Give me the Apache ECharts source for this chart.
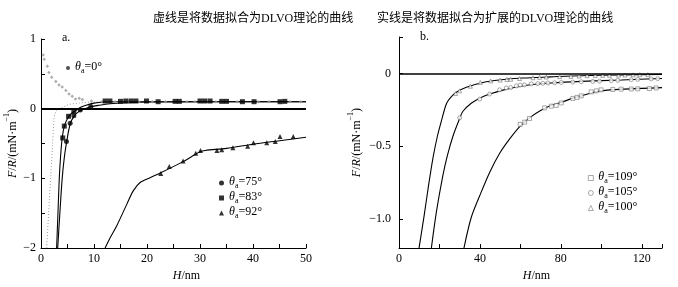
<!DOCTYPE html>
<html>
<head>
<meta charset="utf-8">
<script src="https://cdn.jsdelivr.net/npm/echarts@6/dist/echarts.min.js"></script>
<style>
  html, body { margin: 0; padding: 0; background: #fff; }
  #chart { width: 678px; height: 287px; }
</style>
</head>
<body>
<div id="chart"></div>
<script>
// panel a: measured points
const h0 = [0.4, 0.6, 1.2, 1.5, 2.0, 2.8, 3.4, 4.0, 4.7, 5.3, 5.9, 6.5, 7.2, 7.8, 9.5, 11.5, 14, 16.5, 18.5, 21, 23.5, 27.5, 29, 33, 37, 41, 43, 47, 49];
const f0 = [0.77, 0.71, 0.61, 0.52, 0.45, 0.39, 0.34, 0.31, 0.26, 0.21, 0.18, 0.14, 0.15, 0.13, 0.11, 0.1, 0.1, 0.1, 0.1, 0.1, 0.1, 0.1, 0.1, 0.1, 0.1, 0.1, 0.1, 0.1, 0.1];
const h75 = [4.8, 5.5, 6.2, 7.4, 9.4];
const f75 = [-0.47, -0.21, -0.1, -0.02, 0.03];
const h83 = [4.1, 4.4, 5.2, 6.2, 12.1, 13.0, 15.0, 16.0, 17.0, 17.9, 19.9, 22.1, 25.3, 26.1, 30.0, 30.9, 31.9, 34.1, 35.0, 38.0, 40.2, 45.1, 46.0];
const f83 = [-0.42, -0.25, -0.11, -0.04, 0.11, 0.11, 0.105, 0.11, 0.11, 0.11, 0.11, 0.1, 0.105, 0.105, 0.11, 0.11, 0.11, 0.105, 0.105, 0.1, 0.1, 0.1, 0.105];
const h92 = [22.6, 24.2, 26.8, 29.2, 30.1, 33.2, 34.1, 36.2, 39.0, 40.1, 42.6, 44.2, 45.1, 47.6];
const f92 = [-0.93, -0.83, -0.75, -0.64, -0.6, -0.6, -0.59, -0.56, -0.54, -0.49, -0.49, -0.47, -0.40, -0.40];

// panel a: fitted curves
const fitH0 = [1.07, 1.44, 1.82, 2.15, 2.45, 2.6, 3.0, 3.8, 5.3, 7.2, 10, 14, 20];
const fitF0 = [-2, -1.5, -1.0, -0.55, -0.16, -0.08, -0.02, 0.01, 0.06, 0.08, 0.095, 0.1, 0.1];
const fitH75 = [3.15, 3.6, 4.0, 4.4, 4.85, 5.5, 6.2, 7.0, 8.0, 9.5, 11, 13, 16, 20, 50];
const fitF75 = [-2, -1.45, -1.0, -0.7, -0.47, -0.22, -0.11, -0.05, -0.01, 0.03, 0.05, 0.07, 0.085, 0.095, 0.1];
const fitH83 = [2.95, 3.2, 3.45, 3.7, 4.0, 4.4, 5.0, 5.6, 6.5, 7.5, 8.5, 10, 12, 15, 20, 50];
const fitF83 = [-2, -1.5, -1.0, -0.68, -0.42, -0.25, -0.14, -0.08, -0.03, 0.02, 0.05, 0.08, 0.095, 0.1, 0.1, 0.1];
const fitH92 = [12.1, 13, 14.3, 16.2, 17.4, 18.7, 20.6, 22.6, 26.8, 30, 31, 35, 40, 45, 50];
const fitF92 = [-2, -1.86, -1.68, -1.37, -1.18, -1.06, -0.99, -0.92, -0.76, -0.62, -0.6, -0.57, -0.51, -0.46, -0.41];

// panel b: measured points
const h109 = [59.9, 62.1, 64.5, 72, 75.3, 77.7, 80.2, 85.9, 88, 90.1, 95, 97.5, 99.9, 105.7, 109.8, 114.8, 118, 123.8, 127.1];
const f109 = [-0.35, -0.335, -0.31, -0.237, -0.225, -0.22, -0.203, -0.172, -0.165, -0.154, -0.127, -0.12, -0.113, -0.11, -0.108, -0.107, -0.106, -0.104, -0.1];
const h105 = [30, 39.9, 44.8, 49.7, 53, 55.2, 58, 59.9, 62, 65.4, 68.6, 71.1, 73.6, 76.9, 80.2, 85.9, 90.1, 95.8, 99.1, 104.9, 108.1, 114.8, 118, 124.6, 127.9];
const f105 = [-0.305, -0.176, -0.142, -0.113, -0.1, -0.097, -0.086, -0.08, -0.079, -0.072, -0.07, -0.068, -0.066, -0.064, -0.062, -0.06, -0.057, -0.055, -0.053, -0.05, -0.048, -0.043, -0.041, -0.038, -0.036];
const h100 = [28.0, 30.0, 35.3, 40.2, 45.3, 50, 53.3, 55.2, 59.6, 66.2, 69.5, 72.8, 79.4, 85, 89, 93, 97, 100.7, 104, 108.5, 111.7, 115.7, 119, 123];
const f100 = [-0.138, -0.12, -0.088, -0.062, -0.052, -0.046, -0.042, -0.04, -0.035, -0.03, -0.027, -0.025, -0.022, -0.02, -0.018, -0.016, -0.015, -0.014, -0.013, -0.012, -0.011, -0.01, -0.009, -0.009];

// panel b: fitted curves
const fitH109 = [32.1, 35.7, 39.9, 44.8, 49.7, 54.7, 60, 65, 70, 75, 80, 86, 90, 95, 100, 110, 120, 130];
const fitF109 = [-1.2, -0.99, -0.84, -0.68, -0.55, -0.45, -0.36, -0.3, -0.255, -0.22, -0.2, -0.17, -0.155, -0.135, -0.12, -0.108, -0.103, -0.098];
const fitH105 = [16, 18.5, 21.7, 24, 26.7, 30, 31.6, 35.7, 39.9, 44.8, 51.4, 59.6, 65, 75, 90, 110, 130];
const fitF105 = [-1.2, -0.95, -0.7, -0.56, -0.43, -0.31, -0.26, -0.205, -0.17, -0.142, -0.115, -0.09, -0.078, -0.066, -0.055, -0.045, -0.035];
const fitH100 = [9.9, 12.5, 14.5, 16.8, 19, 20.9, 23.4, 25.9, 28.3, 33.3, 41.5, 49.7, 61.2, 75, 90, 110, 130];
const fitF100 = [-1.2, -0.97, -0.78, -0.58, -0.43, -0.33, -0.21, -0.16, -0.13, -0.095, -0.062, -0.045, -0.032, -0.024, -0.016, -0.011, -0.008];

const serif = "'Liberation Serif', 'Noto Sans CJK SC', serif";
const zip = (xs, ys) => xs.map((x, i) => [x, ys[i]]);
const minus = (s) => String(s).replace('-', '\u2212');

const richTheta = {
  i: { fontFamily: serif, fontSize: 12, fontStyle: 'italic', color: '#000', lineHeight: 14, verticalAlign: 'top' },
  s: { fontFamily: serif, fontSize: 8, color: '#000', lineHeight: 7, verticalAlign: 'bottom' },
  n: { fontFamily: serif, fontSize: 12, color: '#000', lineHeight: 14, verticalAlign: 'top' }
};
const thetaLabel = (name) => '{i|θ}{s|a}{n|=' + name + '°}';

const yName = '{i|F}{n|/}{i|R}{n|/(mN·m}{p|\u22121}{n|)}';
const yRich = {
  i: { fontFamily: serif, fontSize: 12, fontStyle: 'italic', color: '#000', lineHeight: 16, verticalAlign: 'bottom' },
  n: { fontFamily: serif, fontSize: 12, color: '#000', lineHeight: 16, verticalAlign: 'bottom' },
  p: { fontFamily: serif, fontSize: 8, color: '#000', lineHeight: 16, verticalAlign: 'top' }
};
const xName = '{i|H}{n|/nm}';

const axisCommon = {
  axisLine: { show: true, onZero: false, lineStyle: { color: '#000', width: 1 } },
  axisTick: { show: true, inside: true, length: 4, lineStyle: { color: '#000' } },
  splitLine: { show: false },
  nameTextStyle: { rich: yRich }
};

const fitLine = (name, xi, hs, fs, extra) => Object.assign({
  name: name, type: 'line', xAxisIndex: xi, yAxisIndex: xi,
  data: zip(hs, fs), showSymbol: false, smooth: 0.3,
  lineStyle: { color: '#000', width: 1.1 }, z: 2
}, extra || {});

const points = (name, xi, hs, fs, symbol, size, style) => ({
  name: name, type: 'scatter', xAxisIndex: xi, yAxisIndex: xi,
  data: zip(hs, fs), symbol: symbol, symbolSize: size, itemStyle: style, z: 4
});

const zeroLine = (w) => ({
  silent: true, symbol: 'none', label: { show: false },
  lineStyle: { color: '#000', width: w, type: 'solid' },
  data: [{ yAxis: 0 }]
});

const openStyle = { color: '#fff', borderColor: '#666', borderWidth: 0.7 };

const chart = echarts.init(document.getElementById('chart'), null, { renderer: 'canvas' });
chart.setOption({
  animation: false,
  backgroundColor: '#fff',
  title: [
    { text: '虚线是将数据拟合为DLVO理论的曲线', left: 153, top: 13, padding: 0,
      textStyle: { fontFamily: serif, fontSize: 12, fontWeight: 'normal', color: '#000' } },
    { text: '实线是将数据拟合为扩展的DLVO理论的曲线', left: 377, top: 13, padding: 0,
      textStyle: { fontFamily: serif, fontSize: 12, fontWeight: 'normal', color: '#000' } },
    { text: 'a.', left: 62, top: 32, padding: 0,
      textStyle: { fontFamily: serif, fontSize: 12, fontWeight: 'normal', color: '#000' } },
    { text: 'b.', left: 420, top: 31, padding: 0,
      textStyle: { fontFamily: serif, fontSize: 12, fontWeight: 'normal', color: '#000' } }
  ],
  legend: [
    { left: 214, top: 171, orient: 'vertical', itemWidth: 5, itemHeight: 5, itemGap: 1,
      selectedMode: false, data: ['75', '83', '92'],
      formatter: thetaLabel, textStyle: { rich: richTheta } },
    { left: 61, top: 56, orient: 'vertical', itemWidth: 4, itemHeight: 4,
      selectedMode: false,
      data: [{ name: '0', icon: 'circle', itemStyle: { color: '#222', borderWidth: 0 } }],
      formatter: thetaLabel, textStyle: { rich: richTheta } },
    { left: 583, top: 166, orient: 'vertical', itemWidth: 5, itemHeight: 5, itemGap: 1,
      selectedMode: false, data: ['109', '105', '100'],
      itemStyle: { borderWidth: 0.7 },
      formatter: thetaLabel, textStyle: { rich: richTheta } }
  ],
  grid: [
    { left: 41, top: 39, width: 265, height: 210 },
    { left: 399, top: 37, width: 263, height: 214 }
  ],
  xAxis: [
    Object.assign({}, axisCommon, {
      type: 'value', gridIndex: 0, min: 0, max: 50, interval: 5,
      axisLabel: { margin: 5, color: '#000', fontFamily: serif, fontSize: 12,
        formatter: (v) => (v % 10 === 0 ? String(v) : '') },
      name: xName, nameLocation: 'middle', nameGap: 18,
      nameTextStyle: { rich: yRich, padding: [0, 0, 0, 26] }
    }),
    Object.assign({}, axisCommon, {
      type: 'value', gridIndex: 1, min: 0, max: 130, interval: 20,
      axisLabel: { margin: 5, color: '#000', fontFamily: serif, fontSize: 12,
        formatter: (v) => (v % 40 === 0 && v < 130 ? String(v) : '') },
      name: xName, nameLocation: 'middle', nameGap: 17,
      nameTextStyle: { rich: yRich, padding: [0, 0, 0, 12] }
    })
  ],
  yAxis: [
    Object.assign({}, axisCommon, {
      type: 'value', gridIndex: 0, min: -2, max: 1, interval: 0.5,
      axisLabel: { margin: 5, color: '#000', fontFamily: serif, fontSize: 12,
        formatter: (v) => (Number.isInteger(v) ? minus(v) : '') },
      name: yName, nameLocation: 'middle', nameRotate: 90, nameGap: 15
    }),
    Object.assign({}, axisCommon, {
      type: 'value', gridIndex: 1, min: -1.2, max: 0.25,
      axisTick: { show: true, inside: true, length: 4, lineStyle: { color: '#000' },
        customValues: [-1, -0.5, 0, 0.25] },
      axisLabel: { margin: 8, color: '#000', fontFamily: serif, fontSize: 12,
        customValues: [-1, -0.5, 0],
        formatter: (v) => (v === 0 ? '0' : minus(v.toFixed(1))) },
      name: yName, nameLocation: 'middle', nameRotate: 90, nameGap: 36
    })
  ],
  series: [
    fitLine('fit0', 0, fitH0, fitF0, { lineStyle: { color: '#999', width: 1, type: [1, 2] } }),
    fitLine('fit75', 0, fitH75, fitF75),
    fitLine('fit83', 0, fitH83, fitF83, { markLine: zeroLine(2) }),
    fitLine('fit92', 0, fitH92, fitF92),
    points('0', 0, h0, f0, 'diamond', 3.5, { color: '#999' }),
    points('75', 0, h75, f75, 'circle', 5, { color: '#000' }),
    points('83', 0, h83, f83, 'rect', 5, { color: '#000' }),
    points('92', 0, h92, f92, 'triangle', 5, { color: '#000' }),
    fitLine('fit109', 1, fitH109, fitF109, { markLine: zeroLine(1.6) }),
    fitLine('fit105', 1, fitH105, fitF105),
    fitLine('fit100', 1, fitH100, fitF100),
    points('109', 1, h109, f109, 'rect', 4, openStyle),
    points('105', 1, h105, f105, 'circle', 4, openStyle),
    points('100', 1, h100, f100, 'triangle', 4, openStyle)
  ]
});
</script>
</body>
</html>
